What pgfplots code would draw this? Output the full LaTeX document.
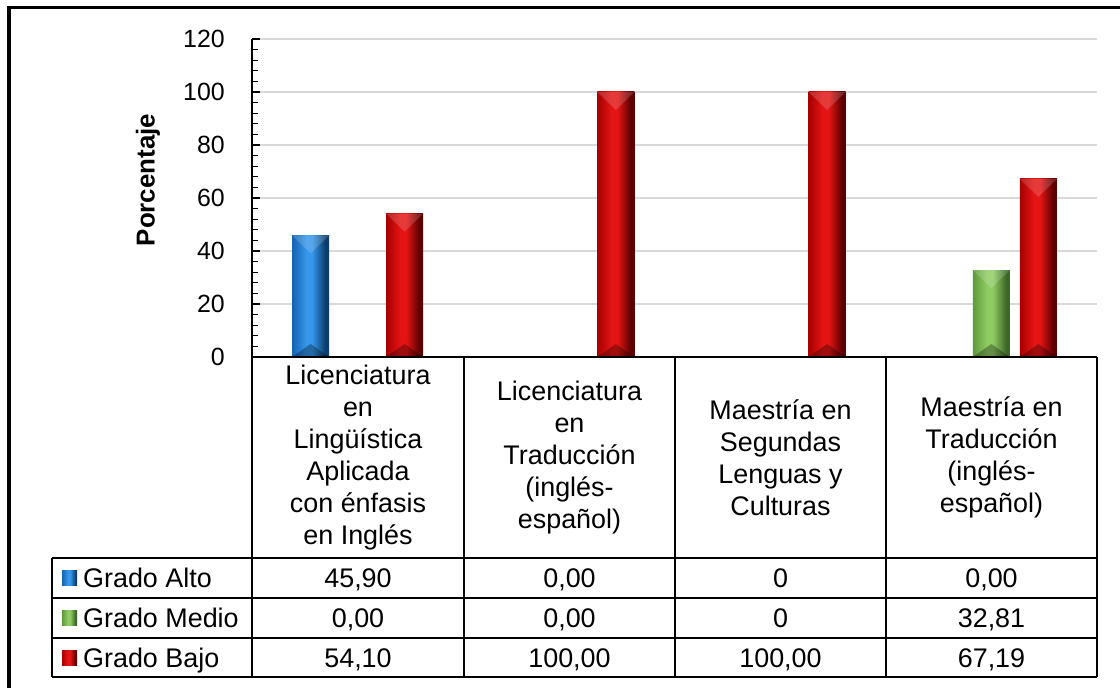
\documentclass[border=0pt]{standalone}
\usepackage{pgfplots}
\pgfplotsset{compat=1.18}
\usepackage{fontspec}
\setmainfont{Liberation Sans}

% bar colours: lit edge, highlight, shadow edge
\definecolor{bluL}{HTML}{1462B2}
\definecolor{bluH}{HTML}{3596EA}
\definecolor{bluD}{HTML}{0B3C6C}
\definecolor{grnL}{HTML}{5E9A3A}
\definecolor{grnH}{HTML}{8FCB62}
\definecolor{grnD}{HTML}{3C6726}
\definecolor{redL}{HTML}{A80000}
\definecolor{redH}{HTML}{E41414}
\definecolor{redD}{HTML}{5C0000}
\definecolor{gridgray}{HTML}{D9D9D9}

% cylinder-like horizontal shadings for the bars
\pgfdeclarehorizontalshading{bluebar}{100bp}{color(0bp)=(bluL); color(25bp)=(bluL); color(44bp)=(bluH); color(52bp)=(bluH); color(70bp)=(bluD); color(75bp)=(bluD); color(100bp)=(bluD)}
\pgfdeclarehorizontalshading{greenbar}{100bp}{color(0bp)=(grnL); color(25bp)=(grnL); color(44bp)=(grnH); color(52bp)=(grnH); color(70bp)=(grnD); color(75bp)=(grnD); color(100bp)=(grnD)}
\pgfdeclarehorizontalshading{redbar}{100bp}{color(0bp)=(redL); color(25bp)=(redL); color(44bp)=(redH); color(52bp)=(redH); color(70bp)=(redD); color(75bp)=(redD); color(100bp)=(redD)}

\newcommand\tabfont{\fontsize{27}{32}\selectfont}

% bevelled cap and foot drawn inside each bar
\tikzset{
  bevel/.style={draw=none, shade, shading=#1,
    path picture={
      \fill[path picture={}, shade=false, white, opacity=0.16] (path picture bounding box.north west) -- (path picture bounding box.north east)
        -- ([yshift=-18bp]path picture bounding box.north) -- cycle;
      \fill[path picture={}, shade=false, black, opacity=0.30] (path picture bounding box.south west) -- (path picture bounding box.south east)
        -- ([yshift=13bp]path picture bounding box.south) -- cycle;
    }},
}

\begin{document}
\begin{tikzpicture}
\useasboundingbox (0,0) rectangle (1120bp,688bp);

\begin{axis}[
  at={(252bp,331bp)}, anchor=south west,
  scale only axis, width=845bp, height=318bp,
  xmin=0.5, xmax=4.5, ymin=0, ymax=120,
  enlargelimits=false,
  ybar, bar width=37bp,
  xtick=\empty,
  ytick={0,20,...,120},
  minor y tick num=4,
  tick align=inside,
  major tick length=8bp, minor tick length=6bp,
  every tick/.style={black, line width=1.3bp},
  axis lines*=left,
  axis line style={-, black, line width=1.8bp},
  ymajorgrids,
  grid style={gridgray, line width=2bp},
  /pgf/number format/assume math mode=true,
  yticklabel style={font=\fontsize{25}{30}\selectfont, anchor=east, inner sep=0pt, xshift=-27bp},
]
% Grado Alto (the other categories are 0)
\addplot[bevel=bluebar, bar shift=-47bp] coordinates {(1,45.90)};
% Grado Medio (only the last category is above 0)
\addplot[bevel=greenbar, bar shift=0bp] coordinates {(4,32.81)};
% Grado Bajo, one bar per category so each gets its own shading
\addplot[bevel=redbar, bar shift=47bp] coordinates {(1,54.10)};
\addplot[bevel=redbar, bar shift=47bp] coordinates {(2,100.00)};
\addplot[bevel=redbar, bar shift=47bp] coordinates {(3,100.00)};
\addplot[bevel=redbar, bar shift=47bp] coordinates {(4,67.19)};
\end{axis}

\begin{scope}[x=1bp, y=1bp]
% outer frame
\draw[black, line width=3bp] (9,0) -- (9,680) -- (1120,680);

% axis title
\node[rotate=90, font=\fontsize{26}{30}\selectfont\bfseries] at (148,508) {Porcentaje};

% data table grid
\begin{scope}[black, line width=2bp]
\draw (252,331) -- (1097,331);
\draw (52,130) -- (1097,130);
\draw (52,90) -- (1097,90);
\draw (52,50) -- (1097,50);
\draw (52,11) -- (1097,11);
\draw (52,130) -- (52,11);
\foreach \xx in {252,464,675,886,1097} \draw (\xx,331) -- (\xx,11);
\end{scope}

% category headers
\begin{scope}[font=\tabfont, align=center]
\node at (358,230.5) {Licenciatura\\en\\Lingüística\\Aplicada\\con énfasis\\en Inglés};
\node at (569.5,230.5) {Licenciatura\\en\\Traducción\\(inglés-\\español)};
\node at (780.5,230.5) {Maestría en\\Segundas\\Lenguas y\\Culturas};
\node at (991.5,230.5) {Maestría en\\Traducción\\(inglés-\\español)};
\end{scope}

% legend keys and series names
\shade[shading=bluebar]  (62,102.5) rectangle (77,117.5);
\shade[shading=greenbar] (62,62.5) rectangle (77,77.5);
\shade[shading=redbar]   (62,22.5) rectangle (77,37.5);
\begin{scope}[font=\tabfont, inner sep=0pt]
\node[anchor=base west] at (83,100.3) {Grado Alto};
\node[anchor=base west] at (83,60.3) {Grado Medio};
\node[anchor=base west] at (83,20.3) {Grado Bajo};
% values
\node[anchor=base] at (358,100.3) {45,90};
\node[anchor=base] at (569.5,100.3) {0,00};
\node[anchor=base] at (780.5,100.3) {0};
\node[anchor=base] at (991.5,100.3) {0,00};
\node[anchor=base] at (358,60.3) {0,00};
\node[anchor=base] at (569.5,60.3) {0,00};
\node[anchor=base] at (780.5,60.3) {0};
\node[anchor=base] at (991.5,60.3) {32,81};
\node[anchor=base] at (358,20.3) {54,10};
\node[anchor=base] at (569.5,20.3) {100,00};
\node[anchor=base] at (780.5,20.3) {100,00};
\node[anchor=base] at (991.5,20.3) {67,19};
\end{scope}
\end{scope}
\end{tikzpicture}
\end{document}
